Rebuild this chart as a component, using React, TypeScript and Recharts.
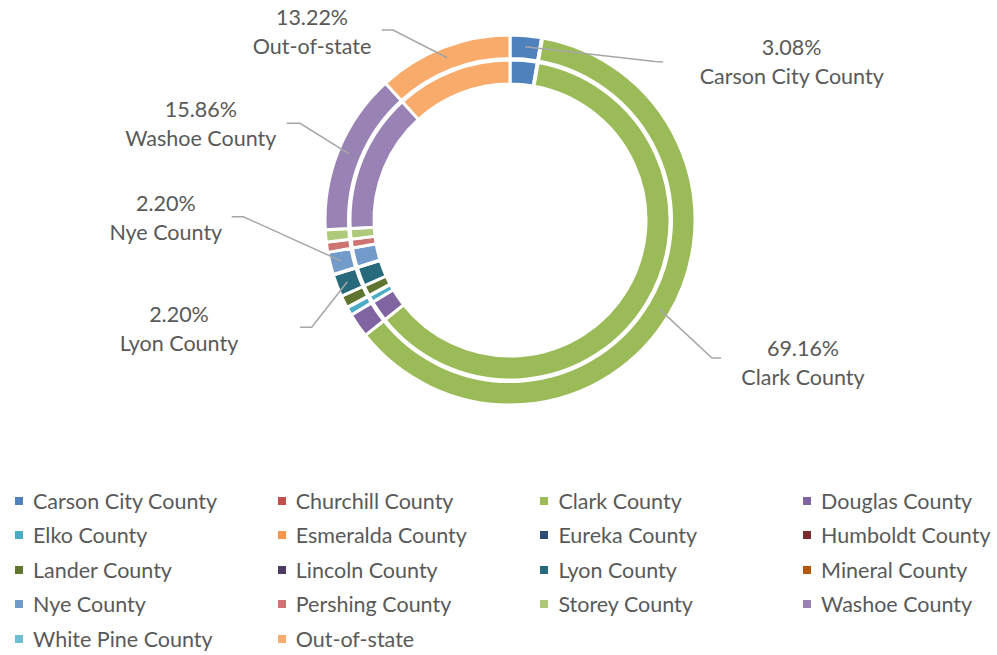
import React from 'react';
import { PieChart, Pie, Cell, Legend } from 'recharts';

const counties = [
  'Carson City County', 'Churchill County', 'Clark County', 'Douglas County',
  'Elko County', 'Esmeralda County', 'Eureka County', 'Humboldt County',
  'Lander County', 'Lincoln County', 'Lyon County', 'Mineral County',
  'Nye County', 'Pershing County', 'Storey County', 'Washoe County',
  'White Pine County', 'Out-of-state',
];
const shares = [
  3.08, 0.1, 69.16, 2.4,
  0.8, 0, 0, 0.05,
  1.2, 0, 2.2, 0.05,
  2.2, 1.0, 1.2, 15.86,
  0, 13.22,
];
const colors = [
  '#4F81BD', '#C0504D', '#9BBB59', '#8064A2',
  '#4BACC6', '#F79646', '#2C4D75', '#772C2A',
  '#5F7530', '#4D3B62', '#276A7C', '#B65708',
  '#729ACA', '#CD7371', '#AFC97A', '#9983B5',
  '#6FBDD1', '#F9AB6B',
];

const rows = counties.map((name, i) => ({ name, value: shares[i] }));

const FONT = 'Lato, "Open Sans", sans-serif';
const TEXT = '#595959';
const FS = 21.5;

// label layout (offsets from the pie centre)
const labelLayout: Record<string, { tx: number; ty: number; end: [number, number]; elbow: [number, number] }> = {
  'Out-of-state': { tx: -198, ty: -195, end: [-128.3, -190], elbow: [-117, -190] },
  'Carson City County': { tx: 281.7, ty: -165, end: [153, -158], elbow: [145, -158.5] },
  'Clark County': { tx: 293, ty: 135.5, end: [211, 138], elbow: [202, 138] },
  'Washoe County': { tx: -309.2, ty: -102.7, end: [-223.3, -96.7], elbow: [-210, -96.7] },
  'Nye County': { tx: -344.2, ty: -9.3, end: [-278.3, -3.3], elbow: [-266.7, -3.3] },
  'Lyon County': { tx: -331, ty: 101.7, end: [-210, 107.3], elbow: [-198.3, 107.3] },
};

const RAD = Math.PI / 180;

const renderLabel = (props: any) => {
  const { cx, cy, midAngle, index } = props;
  const name = counties[index];
  const lay = labelLayout[name];
  if (!lay) return null;
  const ax = cx + 174 * Math.cos(-midAngle * RAD);
  const ay = cy + 174 * Math.sin(-midAngle * RAD);
  const pts = `${ax},${ay} ${cx + lay.elbow[0]},${cy + lay.elbow[1]} ${cx + lay.end[0]},${cy + lay.end[1]}`;
  return (
    <g key={`lbl-${index}`}>
      <polyline points={pts} fill="none" stroke="#A6A6A6" strokeWidth={1.5} />
      <text x={cx + lay.tx} y={cy + lay.ty} textAnchor="middle" fill={TEXT} fontSize={FS} fontFamily={FONT}>
        {`${shares[index].toFixed(2)}%`}
      </text>
      <text x={cx + lay.tx} y={cy + lay.ty + 29} textAnchor="middle" fill={TEXT} fontSize={FS} fontFamily={FONT}>
        {name}
      </text>
    </g>
  );
};

const renderLegend = () => (
  <div style={{ position: 'relative', width: 997, height: 175 }}>
    {counties.map((name, i) => {
      const col = i % 4;
      const row = Math.floor(i / 4);
      const left = 15 + col * 262.7;
      const top = row * 34.4;
      return (
        <div key={name} style={{ position: 'absolute', left, top, height: 30, display: 'flex', alignItems: 'center', whiteSpace: 'nowrap' }}>
          <span style={{ display: 'inline-block', width: 8, height: 8, background: colors[i], marginRight: 10 }} />
          <span style={{ fontFamily: FONT, fontSize: FS, color: TEXT, lineHeight: '30px' }}>{name}</span>
        </div>
      );
    })}
  </div>
);

export default function App() {
  return (
    <div style={{ position: 'absolute', left: 0, top: 0, width: 997, height: 655, background: '#fff' }}>
      <PieChart width={997} height={655} margin={{ top: 0, right: 0, bottom: 0, left: 0 }}>
        <Pie
          data={rows}
          dataKey="value"
          nameKey="name"
          cx={510}
          cy={220}
          startAngle={90}
          endAngle={-270}
          innerRadius={136}
          outerRadius={160}
          stroke="#FFFFFF"
          strokeWidth={3}
          isAnimationActive={false}
          labelLine={false}
        >
          {rows.map((r, i) => (
            <Cell key={`in-${i}`} fill={colors[i]} />
          ))}
        </Pie>
        <Pie
          data={rows}
          dataKey="value"
          nameKey="name"
          cx={510}
          cy={220}
          startAngle={90}
          endAngle={-270}
          innerRadius={161.5}
          outerRadius={185}
          stroke="#FFFFFF"
          strokeWidth={3}
          isAnimationActive={false}
          labelLine={false}
          label={renderLabel}
        >
          {rows.map((r, i) => (
            <Cell key={`out-${i}`} fill={colors[i]} />
          ))}
        </Pie>
        <Legend
          content={renderLegend}
          wrapperStyle={{ position: 'absolute', left: 0, top: 486, width: 997, height: 175 }}
        />
      </PieChart>
    </div>
  );
}
